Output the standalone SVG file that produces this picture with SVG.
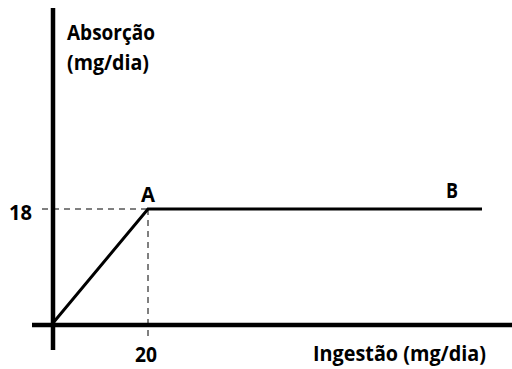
<svg xmlns="http://www.w3.org/2000/svg" width="512" height="369" viewBox="0 0 512 369">
<style>
text{font-family:"Open Sans","Liberation Sans",sans-serif;font-weight:bold;font-size:21px;fill:#000}
.ax{stroke:#000;stroke-width:4.5;fill:none}
.ln{stroke:#000;stroke-width:3;fill:none}
.ds{stroke:#000;stroke-width:1;stroke-dasharray:6,5;fill:none}
</style>
<rect width="512" height="369" fill="#fff"/>
<g id="connectors">
<line class="ds" x1="42" y1="209" x2="148" y2="209"/>
<line class="ds" x1="148" y1="209" x2="148" y2="338"/>
<line class="ax" x1="53" y1="8" x2="53" y2="350"/>
<line class="ax" x1="32" y1="325" x2="512" y2="325"/>
<polyline class="ln" points="53,323 148,209 482,209"/>
</g>
<g id="ylabel"><text x="67" y="40" textLength="88" lengthAdjust="spacingAndGlyphs">Absorção</text><text x="67" y="70" textLength="82" lengthAdjust="spacingAndGlyphs">(mg/dia)</text></g>
<g id="xlabel"><text x="313" y="361" textLength="173" lengthAdjust="spacingAndGlyphs">Ingestão (mg/dia)</text></g>
<g id="t18"><text x="9" y="220" textLength="23" lengthAdjust="spacingAndGlyphs">18</text></g>
<g id="t20"><text x="135" y="362" textLength="22" lengthAdjust="spacingAndGlyphs">20</text></g>
<g id="A"><text x="141" y="202" textLength="14" lengthAdjust="spacingAndGlyphs">A</text></g>
<g id="B"><text x="446" y="198" textLength="12" lengthAdjust="spacingAndGlyphs">B</text></g>
</svg>
